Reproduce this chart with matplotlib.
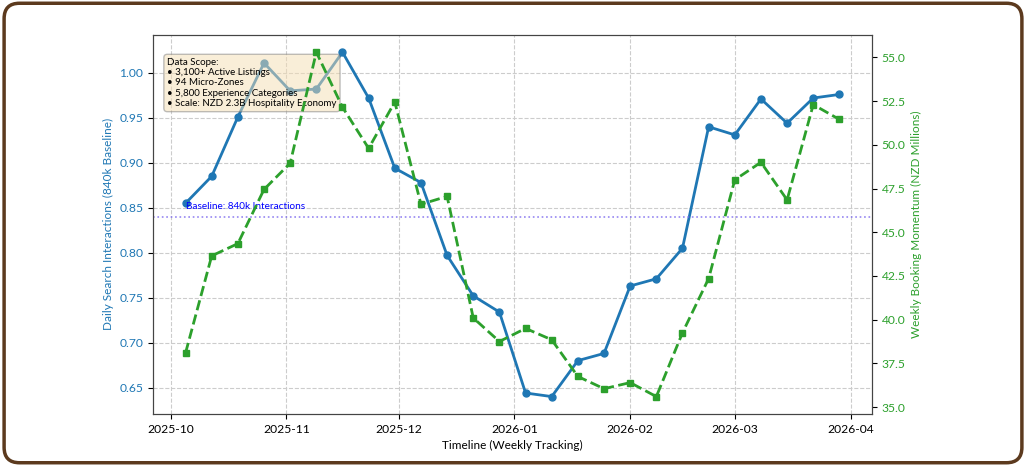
import pandas as pd
import matplotlib
matplotlib.use('Agg')
import matplotlib.pyplot as plt
from matplotlib.patches import FancyBboxPatch

plt.rcParams['font.family'] = ['Lato', 'DejaVu Sans']

# weekly data, Oct 2025 - Mar 2026
dates = pd.date_range('2025-10-05', periods=26, freq='W')
search = [0.855, 0.885, 0.951, 1.011, 0.980, 0.982, 1.023, 0.972, 0.894, 0.878,
          0.797, 0.752, 0.734, 0.644, 0.640, 0.680, 0.688, 0.763, 0.771, 0.805,
          0.940, 0.931, 0.971, 0.944, 0.972, 0.976]
booking = [38.1, 43.65, 44.35, 47.45, 48.95, 55.3, 52.15, 49.8, 52.45, 46.6,
           47.05, 40.1, 38.75, 39.5, 38.85, 36.75, 36.05, 36.4, 35.6, 39.25,
           42.35, 48.0, 49.0, 46.85, 52.3, 51.45]
baseline = 0.84
scope_text = ('Data Scope:\n'
              '\u2022 3,100+ Active Listings\n'
              '\u2022 94 Micro-Zones\n'
              '\u2022 5,800 Experience Categories\n'
              '\u2022 Scale: NZD 2.3B Hospitality Economy')

blue = '#1f77b4'
green = '#2ca02c'

fig = plt.figure(figsize=(10.26, 4.66), dpi=100)
ax1 = fig.add_axes([0.149, 0.112, 0.701, 0.813])

ax1.plot(dates, search, color=blue, lw=2, marker='o', ms=5)
ax1.axhline(baseline, color='#7b68ee', ls=':', lw=1.2, alpha=0.8)
ax1.text(dates[0], baseline + 0.006, 'Baseline: 840k Interactions', color='blue',
         fontsize=7.2, va='bottom', ha='left')
ax1.set_ylabel('Daily Search Interactions (840k Baseline)', color=blue, fontsize=8.5)
ax1.tick_params(axis='y', labelcolor=blue, labelsize=8.7)
ax1.tick_params(axis='x', labelsize=8.7)
ax1.set_xlabel('Timeline (Weekly Tracking)', fontsize=8.5)
ax1.grid(True, ls='--', color='#cccccc', lw=0.8)

ax1.text(0.02, 0.94, scope_text, transform=ax1.transAxes, fontsize=7, va='top',
         bbox=dict(boxstyle='round,pad=0.35', facecolor='wheat', edgecolor='gray', alpha=0.5))

ax2 = ax1.twinx()
ax2.plot(dates, booking, color=green, lw=2, ls='--', marker='s', ms=5)
ax2.set_ylabel('Weekly Booking Momentum (NZD Millions)', color=green, fontsize=8.5)
ax2.tick_params(axis='y', labelcolor=green, labelsize=8.7)

for a in (ax1, ax2):
    for s in a.spines.values():
        s.set_color('#444444')

# rounded frame around the figure
fig.patches.append(FancyBboxPatch((0.004, 0.007), 0.992, 0.986,
                                  boxstyle='round,pad=0,rounding_size=0.015',
                                  transform=fig.transFigure, fill=False,
                                  edgecolor='#5c3a1e', lw=2.5, mutation_aspect=2.2))

fig.savefig('out.png', dpi=100)
